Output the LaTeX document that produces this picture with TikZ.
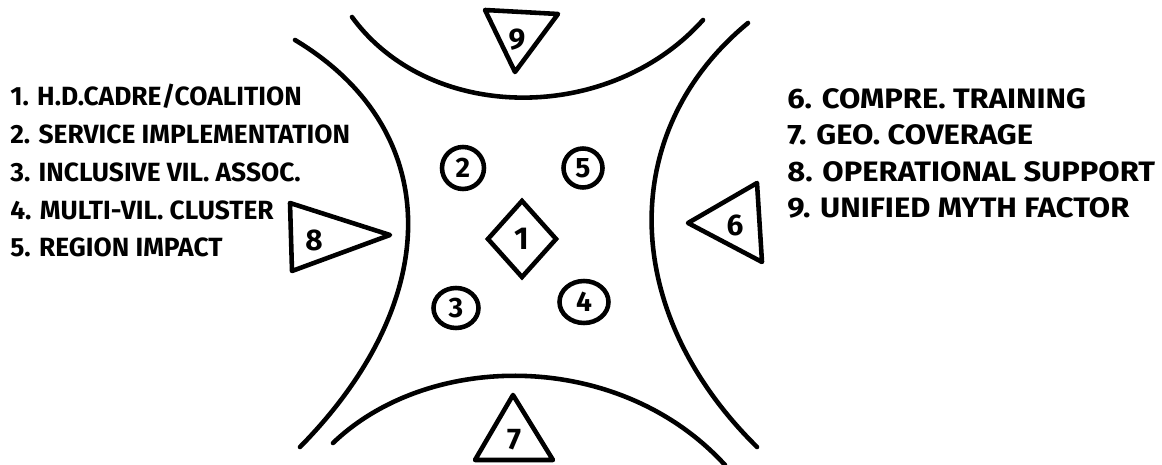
\documentclass[tikz,border=0pt]{standalone}
\usepackage{fontspec}
\setmainfont{Fira Sans}
\usetikzlibrary{shapes.geometric, positioning}
\tikzset{
  curve/.style={line width=2.6pt,line cap=round},
  ring/.style={circle,draw,line width=2.6pt,minimum size=0.84cm,inner sep=0pt,
    font=\fontsize{16}{16}\selectfont\bfseries},
  oval/.style={ellipse,draw,line width=2.6pt,inner sep=0pt,
    font=\fontsize{16}{16}\selectfont\bfseries},
  core/.style={diamond,draw,line width=2.6pt,minimum width=1.4cm,minimum height=1.56cm,
    inner sep=0pt,font=\fontsize{18}{18}\selectfont\bfseries},
  wedge/.style={line width=2.6pt,line join=round,line cap=round},
  num/.style={inner sep=0pt,font=\fontsize{17}{17}\selectfont\bfseries}
}

\begin{document}
\begin{tikzpicture}[
  x=0.02cm,y=-0.02cm,
  listtext/.style={inner sep=0pt,align=left,anchor=north west,
    font=\fontsize{15}{21.5}\selectfont\bfseries}
]
\useasboundingbox (0,0) rectangle (1162,465);

% Centre
\node[core] (n1) at (522,239) {1};
\node[ring] (n2) at (463,168) {2};
\node[ring,minimum size=0.78cm] (n5) at (583,168) {5};
\node[oval,minimum width=0.9cm,minimum height=0.8cm] (n3) at (456,308) {3};
\node[oval,minimum width=0.98cm,minimum height=0.84cm] (n4) at (584,302) {4};

% Arcs
\draw[curve] (352,17) .. controls (430,124) and (610,124) .. (703,20);
\draw[curve] (333,443) .. controls (430,350) and (620,350) .. (725,465);
\draw[curve] (295,40) .. controls (445,130) and (445,300) .. (300,447);
\draw[curve] (748,23) .. controls (618,130) and (618,310) .. (757,447);

% Wedges
\node[num] (n9) at (517,40) {9};
\draw[wedge] (485,10) -- (558,14) -- (515,72) -- cycle;
\node[num] (n7) at (514,440) {7};
\draw[wedge] (513,395) -- (553,460) -- (475,460) -- cycle;
\node[num] (n8) at (314,240) {8};
\draw[wedge] (290,203) -- (390,235) -- (292,271) -- cycle;
\node[num] (n6) at (735,225) {6};
\draw[wedge] (688,223) -- (757,183) -- (762,262) -- cycle;

% Lists
\node[listtext] (leftlist) at (10,84) {
  1. H.D.CADRE/COALITION\\
  2. SERVICE IMPLEMENTATION\\
  3. INCLUSIVE VIL. ASSOC.\\
  4. MULTI-VIL. CLUSTER\\
  5. REGION IMPACT
};
\node[listtext,font=\fontsize{16}{20.8}\selectfont\bfseries\addfontfeature{FakeStretch=1.1}]
  (rightlist) at (787,88) {
  6. COMPRE. TRAINING\\
  7. GEO. COVERAGE\\
  8. OPERATIONAL SUPPORT\\
  9. UNIFIED MYTH FACTOR
};

\end{tikzpicture}
\end{document}
